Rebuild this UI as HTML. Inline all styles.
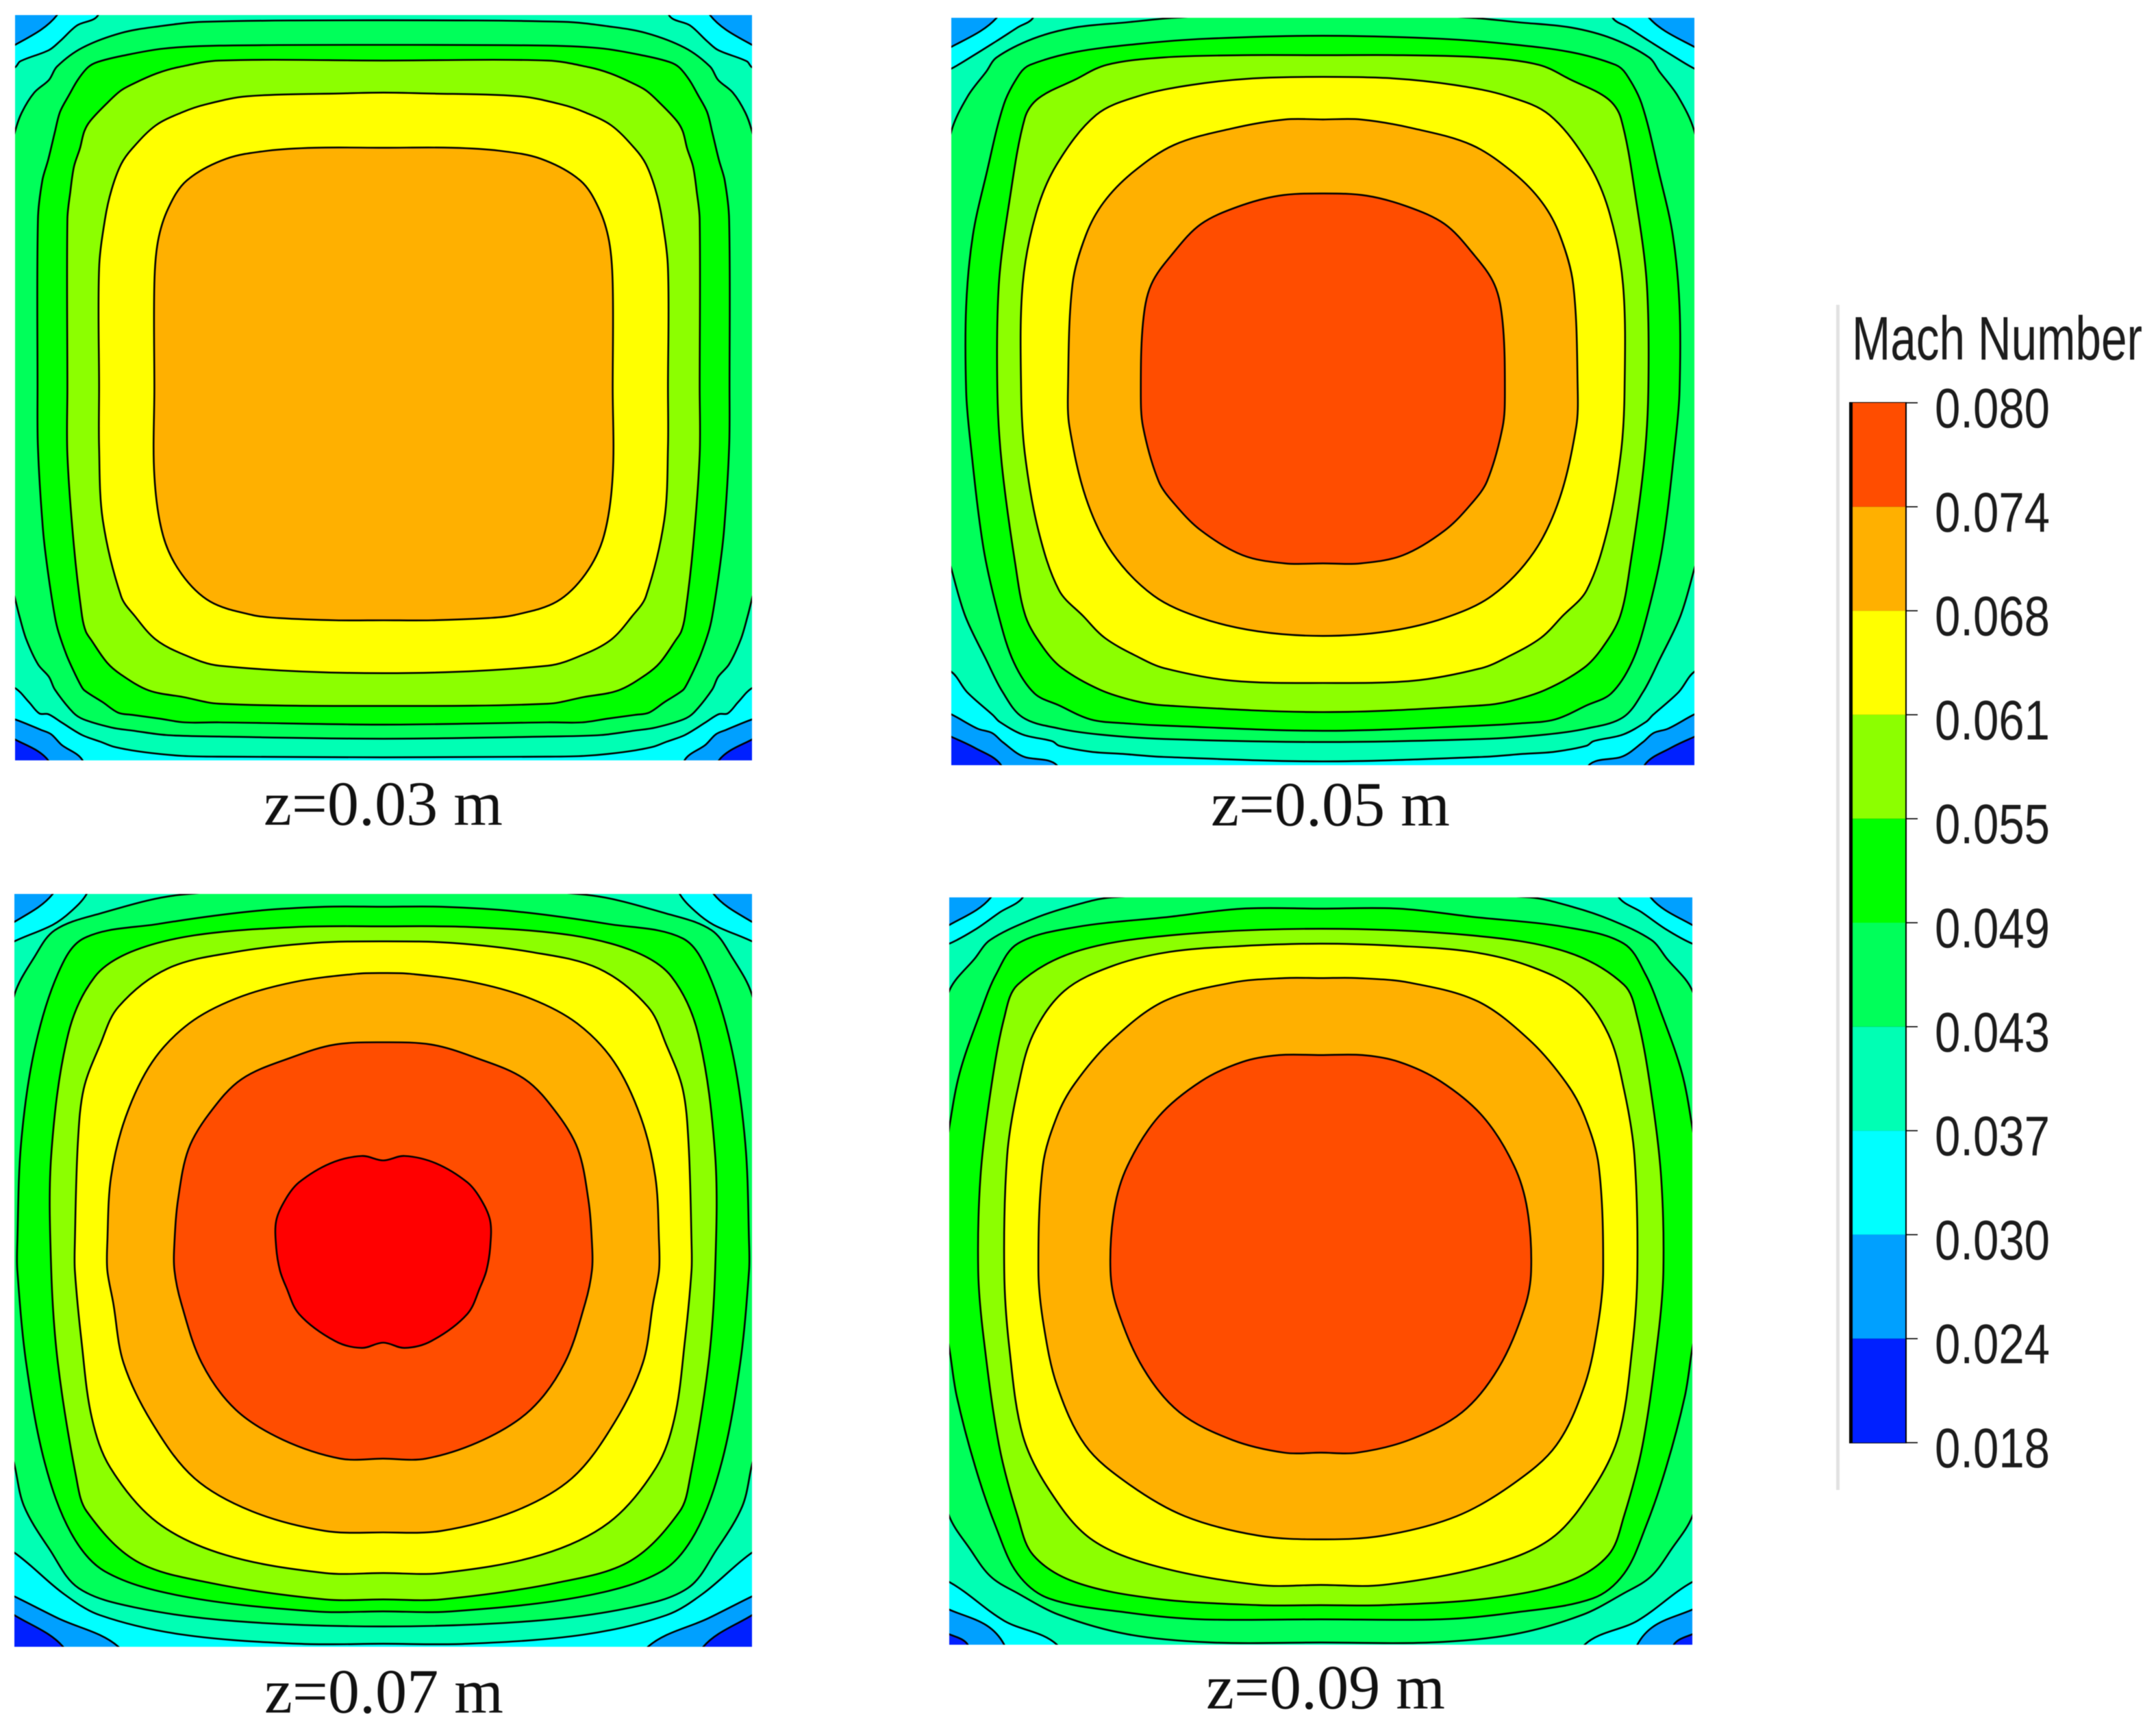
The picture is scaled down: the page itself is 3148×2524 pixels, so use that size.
<!DOCTYPE html>
<html lang="en">
<head>
<meta charset="utf-8">
<title>Mach Number contours</title>
<style>
html,body{margin:0;padding:0;background:#fff;}
body{width:3148px;height:2524px;overflow:hidden;}
svg{display:block;filter:blur(0.6px);}
.cap{font-family:"Liberation Serif",serif;font-size:92px;fill:#111;}
.leg{font-family:"Liberation Sans",sans-serif;fill:#1c1c1c;}
</style>
</head>
<body>
<svg id="chart" xmlns="http://www.w3.org/2000/svg" width="3148" height="2524" viewBox="0 0 3148 2524"></svg>
<script>
// Colour scale boundaries (Mach number)
const legendTicks = ["0.080","0.074","0.068","0.061","0.055","0.049","0.043","0.037","0.030","0.024","0.018"];
const bandColors = ["#0020ff","#00a0ff","#00ffff","#00ffb4","#00ff5a","#00ff00","#8cff00","#ffff00","#ffb000","#ff4d00","#ff0000"];
const legendBands = [9,8,7,6,5,4,3,2,1,0];
const legendTitle = "Mach Number";
const captions = ["z=0.03 m","z=0.05 m","z=0.07 m","z=0.09 m"];

// Contour levels, lowest to highest. Each entry lists [u,v] in % of duct width,
// measured from the left wall and from the top (Top) or bottom (Bottom) wall.
// null = contour lies wholly outside that corner; [] = level not reached.
const z03Top = [
 null,
 [[-5,50],[-5,6],[0,4],[5.7,0],[7,-5],[50,-5]],
 [[-5,50],[-5,9],[0,7],[0.7,6.2],[4.6,4.7],[6.1,3.5],[8.4,1.4],[11.2,0.1],[13,-5],[50,-5]],
 [[-3,50],[-1.5,22],[0,15.6],[0.9,13.1],[2.6,10.4],[4.6,8.7],[5.7,6.9],[9.1,4.4],[14.4,2.4],[19.6,1.5],[25.6,0.9],[50,0.7]],
 [[3.05,50],[3.1,27.4],[3.7,22.2],[4.5,19.4],[5.4,15.7],[6.1,13],[7.4,10.6],[8.5,8.7],[9.9,7],[11.2,6.3],[14.4,5.5],[20.1,4.5],[27.7,4.1],[50,4]],
 [[7.1,50],[7.1,27.4],[7.5,23.7],[8,20.3],[8.8,17.9],[9.4,15.6],[10.2,14.2],[12.5,11.8],[14.4,10.1],[16.5,9],[19.3,7.8],[22.1,7],[27.7,6.1],[50,6.1]],
 [[11.4,50],[11.4,34],[12.2,27.4],[13.1,23.4],[14.4,20],[15.9,17.9],[19.1,14.8],[22.8,13],[25.8,12],[31.5,10.9],[45,10.5],[50,10.4]],
 [[18.9,50],[18.9,36],[19.4,30.3],[20.8,25.9],[23.3,22.2],[28.6,19.3],[34.3,18.2],[40.7,17.8],[50,17.8]],
 [],
 []
];
const z03Bottom = [
 [[-5,50],[-5,5],[0,2.8],[4.5,0],[6,-5],[50,-5]],
 [[-5,50],[-5,7],[0,5.5],[3.5,4.1],[4.9,3.5],[6.3,2.1],[9.1,0.1],[11,-5],[50,-5]],
 [[-5,50],[-5,12],[0,9.7],[1.9,7.8],[3.3,6.3],[4.5,6.2],[6.3,5.1],[9.1,3.4],[11.6,2.5],[13.5,1.8],[17.5,1.1],[22.8,0.6],[27.7,0.5],[50,0.4]],
 [[-3,50],[-1.5,28],[0,21.7],[0.6,19.3],[1.5,16.3],[3.1,12.9],[4.6,11.2],[5.4,9.5],[7.9,6.4],[9.3,5.5],[13.1,4.4],[15.9,4],[20.5,3.4],[27.7,3.2],[50,2.9]],
 [[3.05,50],[3.1,42],[3.8,30.8],[4.5,25],[5.4,19.3],[5.9,17.2],[7,14.1],[7.9,12.1],[8.9,10.1],[9.4,9.4],[11.9,7.8],[14,6.4],[15.9,6.1],[19.6,5.6],[23,5.1],[27.7,5.1],[50,4.8]],
 [[7.1,50],[7.1,41],[8,28.6],[9.1,19.3],[9.6,17.3],[10.3,16.2],[12.5,13.1],[14.4,11.5],[18.1,9.4],[22.8,8.5],[27.7,7.6],[50,7.3]],
 [[11.4,50],[11.4,42],[11.9,32.3],[14.4,22],[16.3,19.3],[19,16.3],[22.4,14.4],[27.7,12.7],[50,11.7]],
 [[18.9,50],[18.9,38.2],[20.1,30.1],[22.6,25],[26.5,21.3],[32.2,19.5],[35.7,19.1],[43.5,18.8],[50,18.8]],
 [],
 []
];
const z05Top = [
 null,
 [[-5,50],[-5,6],[0,3.9],[6.1,0],[8,-5],[50,-5]],
 [[-5,50],[-5,9],[0,6.8],[3.2,4.9],[6.1,3.1],[8.9,1.3],[11,0],[13,-5],[50,-5]],
 [[-3,50],[-1.5,24],[0,15.2],[2.2,10.5],[4.7,7.2],[6.1,5.3],[11,2.8],[16.6,1.3],[23.7,0.6],[30,0],[50,-1]],
 [[2,50],[2,38.6],[2.9,29.1],[4.7,21],[7.1,11.5],[9.2,7.5],[10.6,6.3],[16.6,4.6],[25.1,3.5],[34.3,2.8],[50,2.4]],
 [[6.2,50],[6.4,35.7],[7.8,24.7],[9.9,13.4],[11.7,10.8],[16.6,8.3],[20.9,6.3],[28.6,5.3],[39.2,5],[50,5]],
 [[9.4,50],[9.6,35.7],[11.4,26.2],[14.2,19.6],[19.5,13],[25.1,10.5],[32.2,9],[40.6,8.1],[50,7.9]],
 [[15.7,50],[16.3,35.7],[18.1,29.1],[20.5,24.7],[24.4,20.7],[30,17],[37.8,14.8],[44.9,13.6],[50,13.6]],
 [[25.5,50],[25.8,40.8],[26.9,35.7],[30,31.3],[33.6,27.6],[38.5,25.3],[44.1,23.8],[50,23.5]],
 []
];
const z05Bottom = [
 [[-5,50],[-5,6],[0,3.8],[3.2,2.3],[6.7,0],[8,-5],[50,-5]],
 [[-5,50],[-5,9],[0,6.8],[3.5,4.9],[5.5,4.3],[6.9,3.1],[9.6,1.2],[14.2,0],[16,-5],[50,-5]],
 [[-5,50],[-5,15],[0,12.5],[2.1,9.8],[5.6,6.7],[6.5,5.8],[9.6,4.1],[13.6,3.2],[14.5,2.6],[18.8,1.8],[23.1,1.5],[28.6,1.1],[50,0.5]],
 [[-3,50],[-1.5,32],[0,26.3],[1.9,19.9],[4.7,14.1],[6.9,9.8],[9.6,6.4],[14.5,4.9],[20,4.1],[28.6,3.5],[50,3.1]],
 [[2,50],[2.5,43.9],[4.3,29.2],[6.4,19.9],[8.4,13.8],[11.2,9.6],[14.5,8],[18.8,6.1],[23.4,5.6],[28.6,5.3],[50,4.6]],
 [[6.2,50],[6.8,40.2],[8.6,27],[10,19.9],[12.4,15.7],[14.9,13],[20,10.1],[24.7,8.6],[28.6,8],[50,7.1]],
 [[9.4,50],[9.9,41.7],[11.7,31.5],[14.5,23.4],[17.8,19.9],[20.7,17],[25.3,14.4],[28.6,13],[37.8,11.3],[50,11]],
 [[15.7,50],[15.9,45.3],[18.1,35.8],[21.6,28.5],[27.2,22.7],[33.6,19.7],[41.3,17.9],[50,17.3]],
 [[25.5,50],[25.8,45.3],[27.9,38],[30,35],[33.6,31.4],[39.2,28.1],[44.9,27],[50,27]],
 []
];
const z07Top = [
 null,
 [[-5,50],[-5,6],[0,3.7],[5.2,0],[7,-5],[50,-5]],
 [[-5,50],[-5,9],[0,6.3],[5.2,4.1],[7.7,2.3],[9.8,0],[12,-5],[50,-5]],
 [[-3,50],[-1.5,22],[0,13.4],[2.7,8.4],[5.5,4.8],[11.6,2.6],[22.6,0.1],[50,-1]],
 [[0.4,50],[0.4,46.3],[0.9,33.2],[2.7,20.8],[5.9,10.6],[9.4,5.9],[19.4,4],[32.2,2.3],[42.1,1.7],[50,1.7]],
 [[5,50],[5,34.7],[7.3,18.6],[10.9,11],[15.8,7.7],[24.4,5.5],[37.9,4.4],[50,4.3]],
 [[8.2,50],[8.2,46.3],[8.6,33.2],[9.4,25.9],[11.6,20.1],[14.1,15],[20.8,9.9],[30,7.7],[40.7,6.5],[50,6.3]],
 [[12.6,50],[12.6,46.3],[13.1,37.6],[15.1,29.6],[18.7,22.3],[23.7,17.2],[30,13.9],[37.9,11.7],[46.4,10.6],[50,10.5]],
 [[21.7,50],[21.7,46.3],[22.2,40.5],[23.6,33.9],[26.4,29.2],[30.8,24.6],[37.9,21.6],[43.5,20],[50,19.7]],
 [[36,50],[35.5,47],[35.5,43.4],[36.8,40.5],[38.6,38.3],[42.8,35.8],[47.1,34.8],[50,35.4]]
];
const z07Bottom = [
 [[-5,50],[-5,7],[0,4.2],[6.6,0],[8,-5],[50,-5]],
 [[-5,50],[-5,9],[0,6.7],[5.9,3.8],[14.1,0],[16,-5],[50,-5]],
 [[-5,50],[-5,15],[0,12.5],[6.6,7.1],[11.6,4.2],[22.9,1.6],[38.5,0.4],[50,0.4]],
 [[-3,50],[-1.5,30],[0,24.2],[1.3,18.7],[4.8,12.9],[8.7,7.8],[16.5,5.2],[30,3.4],[50,2.7]],
 [[0.4,50],[1.6,37.7],[4.1,24.5],[7.7,15.1],[12.3,10],[22.9,6.7],[40.7,4.7],[50,4.7]],
 [[5,50],[5.9,37.7],[8.4,22.4],[9.8,18],[16.5,11.4],[26.5,8.5],[42.1,6.3],[50,6.3]],
 [[8.2,50],[9.1,40.6],[10.5,30.4],[13,23.8],[19.4,16.5],[28.6,12.2],[42.1,9.8],[50,9.8]],
 [[12.6,50],[13.4,45.7],[14.8,37.7],[18.7,29.7],[24.4,22.4],[32.2,18],[42.1,15.4],[50,15.2]],
 [[21.7,50],[22.6,45.7],[25.4,37.7],[30,31.5],[36.4,27.5],[44.2,25],[50,25]],
 [[36,50],[36.8,47.9],[38.6,44.2],[43.5,40.6],[47.1,39.7],[50,40.4]]
];
const z09Top = [
 null,
 [[-5,50],[-5,6],[0,3.7],[5.6,0],[7,-5],[50,-5]],
 [[-5,50],[-5,8],[0,6.2],[3.5,4.3],[6.8,2],[9.9,0],[12,-5],[50,-5]],
 [[-3,50],[-1.5,20],[0,12.5],[3.5,8.1],[5.5,5.7],[11,3],[16,1.3],[21.9,0],[50,-1]],
 [[-2,50],[-1,38],[0,30.8],[1.4,23.5],[4.2,15.4],[6.3,10.3],[9.2,6.2],[16.9,4],[29.6,2.6],[39.5,1.5],[50,1.5]],
 [[3.9,50],[4.2,37.4],[5.6,25.7],[7.4,16.1],[9.2,11.7],[16.9,7.3],[29.6,5.1],[50,4.2]],
 [[7.4,50],[7.8,34.5],[9.2,25.7],[11.3,18.3],[15.5,12.5],[21.9,9.2],[29.6,7.3],[39.5,6.5],[50,6.2]],
 [[12,50],[12.6,35.9],[14.5,29.3],[16.9,24.9],[21.9,19.1],[28.9,13.9],[38.1,11.4],[45.1,10.8],[50,10.8]],
 [[21.7,50],[22.2,41.8],[24,35.9],[28.2,29.3],[33.9,24.6],[39.5,22],[44.4,21.1],[50,21.1]],
 []
];
const z09Bottom = [
 [[-5,50],[-5,3],[0,1.4],[2.5,0],[4,-5],[50,-5]],
 [[-5,50],[-5,7],[0,4.7],[5,2.6],[7.4,0],[9,-5],[50,-5]],
 [[-5,50],[-5,10],[0,8.4],[7.4,3.2],[14.5,0],[16,-5],[50,-5]],
 [[-3,50],[-1.5,24],[0,17.2],[2.8,12.8],[5.6,9.1],[9.2,6.9],[14.8,4],[24,1.4],[35.3,0.3],[50,0.3]],
 [[-2,50],[-1,45],[0,39.7],[1,33.3],[3.5,23.8],[6.3,15.7],[9.2,9.5],[13.4,6.2],[24,4.3],[33.9,3.4],[50,3.4]],
 [[3.9,50],[4.6,41.3],[6.7,26.7],[9.2,17.2],[11.3,12],[16.9,8.4],[27.5,6.2],[41.6,5.3],[50,5.3]],
 [[7.4,50],[8.1,39.6],[9.9,28],[13.4,20.8],[19,14.2],[27.5,10.6],[41.6,8],[50,8]],
 [[12,50],[12.7,42.8],[14.5,34.7],[18.3,26.7],[24,21.6],[31.7,17.2],[41.6,14.6],[50,14.1]],
 [[21.7,50],[22.6,45],[26.1,37],[31,31.1],[38.1,27.4],[45.1,25.7],[50,25.7]],
 []
];

const NS = "http://www.w3.org/2000/svg";
const svg = document.getElementById("chart");

function make(tag, attrs, parent) {
  const el = document.createElementNS(NS, tag);
  for (const k in attrs) el.setAttribute(k, attrs[k]);
  parent.appendChild(el);
  return el;
}

const outsideCorner = [[-5,50],[-5,-5],[50,-5]];

// Closed smooth curve through the given points
function smoothPath(raw) {
  const pts = [];
  raw.forEach(p => {
    const last = pts[pts.length - 1];
    if (!last || Math.abs(last[0] - p[0]) > 0.01 || Math.abs(last[1] - p[1]) > 0.01) pts.push(p);
  });
  const f = pts[0], l = pts[pts.length - 1];
  if (Math.abs(f[0] - l[0]) <= 0.01 && Math.abs(f[1] - l[1]) <= 0.01) pts.pop();
  const n = pts.length;
  const tangents = pts.map((p, i) => {
    const a = pts[(i - 1 + n) % n], b = pts[(i + 1) % n];
    const dx = b[0] - a[0], dy = b[1] - a[1];
    const len = Math.hypot(dx, dy) || 1;
    return [dx / len, dy / len];
  });
  let d = "M" + pts[0][0].toFixed(1) + " " + pts[0][1].toFixed(1);
  for (let i = 0; i < n; i++) {
    const j = (i + 1) % n;
    const seg = Math.hypot(pts[j][0] - pts[i][0], pts[j][1] - pts[i][1]) / 3;
    d += "C" + (pts[i][0] + tangents[i][0] * seg).toFixed(1) + " " + (pts[i][1] + tangents[i][1] * seg).toFixed(1) +
         " " + (pts[j][0] - tangents[j][0] * seg).toFixed(1) + " " + (pts[j][1] - tangents[j][1] * seg).toFixed(1) +
         " " + pts[j][0].toFixed(1) + " " + pts[j][1].toFixed(1);
  }
  return d + "Z";
}

function drawPanel(name, box, capX, capBase, capText, topLists, bottomLists) {
  const xScale = u => box.x + u / 100 * box.w;
  const yTop = v => box.y + v / 100 * box.h;
  const yBottom = v => box.y + box.h - v / 100 * box.h;

  const g = make("g", {}, svg);
  
  

  const clip = make("clipPath", {id: name + "-clip"}, g);
  make("rect", {x: box.x, y: box.y, width: box.w, height: box.h}, clip);

  const body = make("g", {"clip-path": "url(#" + name + "-clip)"}, g);
  const bg = make("rect", {x: box.x, y: box.y, width: box.w, height: box.h, fill: bandColors[0]}, body);
  
  

  topLists.forEach((list, i) => {
    const topPts = list === null ? outsideCorner : list;
    const botRaw = bottomLists[i];
    const botPts = botRaw === null ? outsideCorner : botRaw;
    if (topPts.length === 0 || botPts.length === 0) return;
    const pts = [];
    topPts.forEach(p => pts.push([xScale(p[0]), yTop(p[1])]));
    topPts.slice().reverse().forEach(p => pts.push([xScale(100 - p[0]), yTop(p[1])]));
    botPts.forEach(p => pts.push([xScale(100 - p[0]), yBottom(p[1])]));
    botPts.slice().reverse().forEach(p => pts.push([xScale(p[0]), yBottom(p[1])]));
    const band = make("path", {
      d: smoothPath(pts),
      fill: bandColors[i + 1], stroke: "#000", "stroke-width": 2.6, "stroke-linejoin": "round"
    }, body);
    
    
  });

  const cap = make("text", {x: capX, y: capBase, "class": "cap", textLength: 349, lengthAdjust: "spacingAndGlyphs"}, svg);
  cap.textContent = capText;
  
  
}

drawPanel("z-003", {x:22, y:22, w:1076, h:1088}, 385, 1204, captions[0], z03Top, z03Bottom);
drawPanel("z-005", {x:1389, y:26, w:1085, h:1091}, 1768, 1205, captions[1], z05Top, z05Bottom);
drawPanel("z-007", {x:21, y:1305, w:1077, h:1099}, 386, 2500, captions[2], z07Top, z07Bottom);
drawPanel("z-009", {x:1386, y:1310, w:1085, h:1091}, 1761, 2494, captions[3], z09Top, z09Bottom);

// Legend
const legend = make("g", {}, svg);



const legendTop = 588, legendBottom = 2106;
const legendY = i => legendTop + i * (legendBottom - legendTop) / (legendTicks.length - 1);

const rule = make("rect", {x: 2681, y: 445, width: 5, height: 1730, fill: "#e2e2e2"}, legend);



const title = make("text", {x: 2704, y: 525, "class": "leg", "font-size": 90, textLength: 424, lengthAdjust: "spacingAndGlyphs"}, legend);
title.textContent = legendTitle;



make("rect", {x: 2700, y: legendTop - 1, width: 84, height: legendBottom - legendTop + 2, fill: "#000"}, legend);

legendBands.forEach((c, i) => {
  const band = make("rect", {x: 2705, y: legendY(i), width: 77, height: legendY(i + 1) - legendY(i), fill: bandColors[c]}, legend);
  
  
});

legendTicks.forEach((t, i) => {
  const y = legendY(i);
  const tick = make("rect", {x: 2784, y: y - 0.8, width: 16, height: 1.6, fill: "#000"}, legend);
  
  
  const label = make("text", {x: 2825, y: y + 36, "class": "leg", "font-size": 82, textLength: 168, lengthAdjust: "spacingAndGlyphs"}, legend);
  label.textContent = t;
  
  
});
</script>
</body>
</html>
